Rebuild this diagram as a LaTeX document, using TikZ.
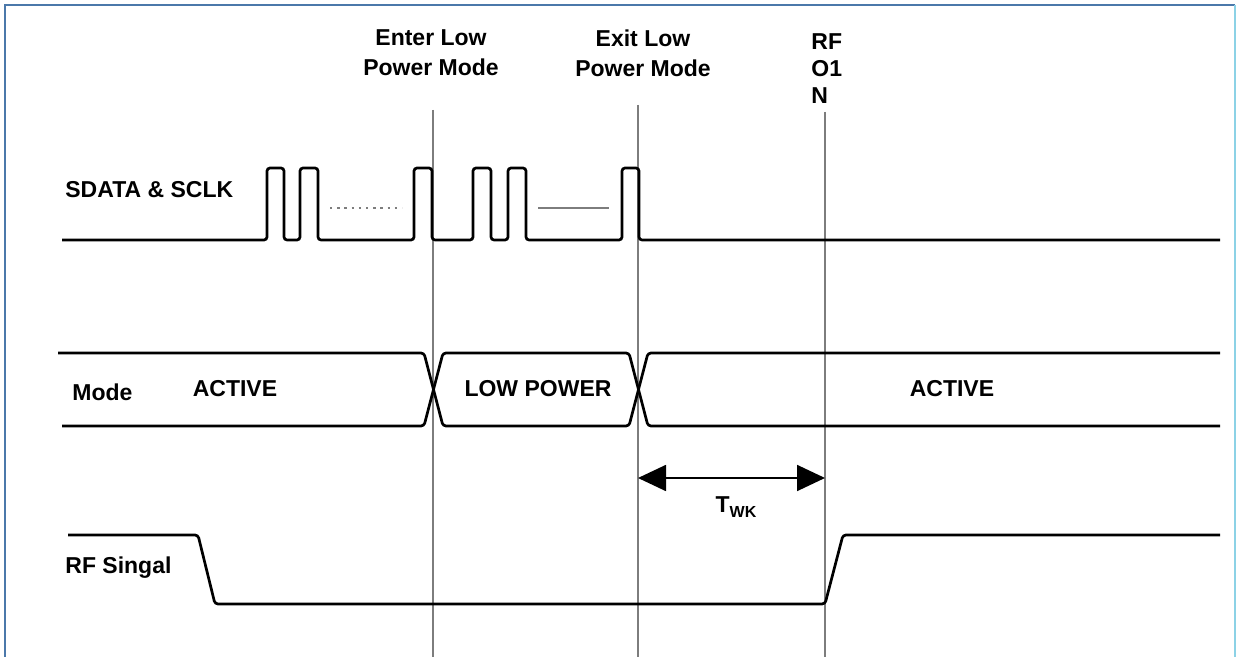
\documentclass[tikz,border=0pt]{standalone}
\usepackage{fontspec}
\setmainfont{Liberation Sans}
\usepackage{tikz}
\usetikzlibrary{arrows.meta}
\definecolor{frameL}{RGB}{75,120,170}
\definecolor{frameR}{RGB}{140,210,230}
\definecolor{guide}{RGB}{125,125,125}
\tikzset{
  lbl/.style={font=\fontsize{11.5}{15}\selectfont\bfseries, inner sep=0pt},
  wave/.style={black, line width=1.35pt, rounded corners=1.5pt},
  guideline/.style={guide, line width=0.6pt}
}

\begin{document}
\begin{tikzpicture}[x=0.5pt, y=-0.5pt]
  \useasboundingbox (0,0) rectangle (1237,657);
  \fill[white] (0,0) rectangle (1237,657);

  % okvir
  \draw[frameL, line width=1.3pt] (5,657) -- (5,5) -- (1235,5);
  \draw[frameR, line width=1.3pt] (1235,5) -- (1235,657);

  % vremenske oznake
  \coordinate (vEnterT) at (433,110);
  \coordinate (vEnterB) at (433,657);
  \coordinate (vExitT)  at (638,105);
  \coordinate (vExitB)  at (638,657);
  \coordinate (vRfT)    at (825,112);
  \coordinate (vRfB)    at (825,657);
  \draw[guideline] (vEnterT) -- (vEnterB);
  \draw[guideline] (vExitT) -- (vExitB);
  \draw[guideline] (vRfT) -- (vRfB);

  \node[lbl, align=center] (enter) at (431,53) {Enter Low\\Power Mode};
  \node[lbl, align=center] (exit)  at (643,53) {Exit Low\\Power Mode};
  \node[lbl, align=left, anchor=west, font=\fontsize{11.5}{13.5}\selectfont\bfseries] (rfon) at (811,69) {RF\\O1\\N};

  % SDATA & SCLK
  \node[lbl, anchor=west] (sdata) at (65,190) {SDATA \& SCLK};
  \draw[wave] (62,240) -- (267,240) -- (267,168) -- (284,168) -- (284,240)
    -- (300,240) -- (300,168) -- (318,168) -- (318,240)
    -- (414,240) -- (414,168) -- (432,168) -- (432,240)
    -- (473,240) -- (473,168) -- (491,168) -- (491,240)
    -- (508,240) -- (508,168) -- (526,168) -- (526,240)
    -- (622,240) -- (622,168) -- (639,168) -- (639,240) -- (1220,240);
  \draw[guide, line width=1pt, dash pattern=on 1.2pt off 2.4pt] (330,208) -- (402,208);
  \draw[guide, line width=0.9pt] (538,208) -- (609,208);

  % Mode
  \node[lbl, anchor=west] (mode) at (72,392) {Mode};
  \draw[wave] (58,353) -- (424,353) -- (443,426) -- (629,426) -- (648,353) -- (1220,353);
  \draw[wave] (62,426) -- (424,426) -- (443,353) -- (629,353) -- (648,426) -- (1220,426);
  \node[lbl] (act1) at (235,389) {ACTIVE};
  \node[lbl] (lowp) at (538,389) {LOW POWER};
  \node[lbl] (act2) at (952,389) {ACTIVE};

  % T_WK
  \coordinate (wkA) at (vExitT |- 0,478);
  \coordinate (wkB) at (vRfT |- 0,478);
  \draw[black, line width=0.9pt, {Triangle[length=14pt,width=13pt]}-{Triangle[length=14pt,width=13pt]}] (wkA) -- (wkB);
  \node[lbl] (twk) at (736,507) {T\raisebox{-0.35ex}{\fontsize{8}{9}\selectfont WK}};

  % RF signal
  \node[lbl, anchor=west] (rfsig) at (65,568) {RF Singal};
  \draw[wave] (68,535) -- (198,535) -- (215,604) -- (825,604) -- (843,535) -- (1220,535);

\end{tikzpicture}
\end{document}
